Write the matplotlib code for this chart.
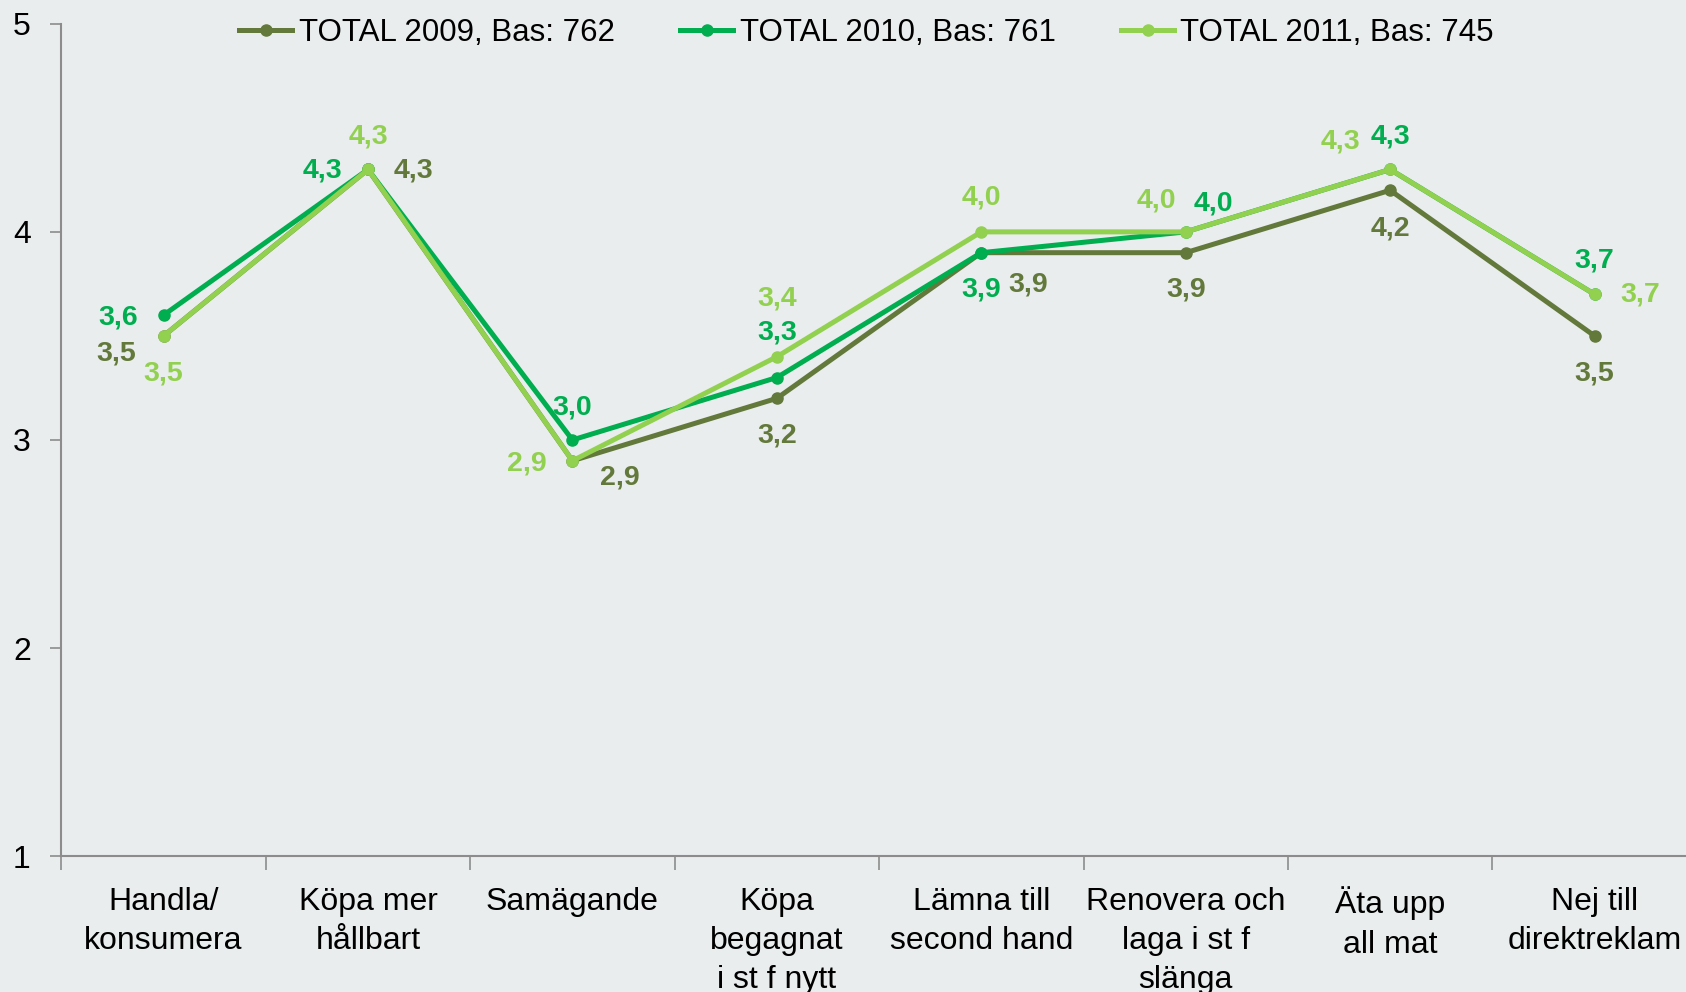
import matplotlib
matplotlib.use("Agg")
import matplotlib.pyplot as plt

categories = ["Handla/\nkonsumera", "Köpa mer\nhållbart", "Samägande", "Köpa\nbegagnat\ni st f nytt",
              "Lämna till\nsecond hand", "Renovera och\nlaga i st f\nslänga", "Äta upp\nall mat", "Nej till\ndirektreklam"]
series_names = ["TOTAL 2009, Bas: 762", "TOTAL 2010, Bas: 761", "TOTAL 2011, Bas: 745"]
values_2009 = [3.5, 4.3, 2.9, 3.2, 3.9, 3.9, 4.2, 3.5]
values_2010 = [3.6, 4.3, 3.0, 3.3, 3.9, 4.0, 4.3, 3.7]
values_2011 = [3.5, 4.3, 2.9, 3.4, 4.0, 4.0, 4.3, 3.7]
y_ticks = [1, 2, 3, 4, 5]

colors = ["#63793B", "#00AD4F", "#92D050"]
bg = "#E9EDED"

# label offsets (shrunk-pixel units, converted below)
offsets = [
    [(-44, -16), (42, -1), (44, -16), (0, -35), (44, -30), (0, -34), (0, -36), (0, -35)],
    [(-42, -2), (-42, -1), (0, 30), (0, 42), (0, -34), (26, 26), (0, 31), (0, 31)],
    [(0, -35), (0, 31), (-42, -3), (0, 54), (0, 32), (-27, 29), (-46, 26), (42, 0)],
]

plt.rcParams['font.family'] = ['Liberation Sans', 'DejaVu Sans']
fig = plt.figure(figsize=(16.86, 9.92), dpi=100, facecolor=bg)
ax = fig.add_axes([0.0364, 0.137, 0.970, 0.839])
ax.set_facecolor(bg)

x = list(range(len(categories)))
all_vals = [values_2009, values_2010, values_2011]
for vals, name, c in zip(all_vals, series_names, colors):
    ax.plot(x, vals, color=c, lw=3.6, marker='o', ms=8, label=name, solid_joinstyle='round')

k = 1.0753 * 0.72
for si, (vals, c) in enumerate(zip(all_vals, colors)):
    for i, v in enumerate(vals):
        dx, dy = offsets[si][i]
        ax.annotate(f"{v:.1f}".replace('.', ','), (i, v), xytext=(dx * k, dy * k),
                    textcoords='offset points', ha='center', va='center',
                    fontsize=20.5, fontweight='bold', color=c)

ax.set_xlim(-0.5, len(categories) - 0.5)
ax.set_ylim(1, 5)
ax.set_yticks(y_ticks)
ax.set_yticklabels([str(t) for t in y_ticks])
ax.set_xticks([i - 0.5 for i in range(len(categories))])
ax.set_xticklabels([])
ax.set_xticks(x, minor=True)
ax.set_xticklabels(categories, minor=True, fontsize=23, linespacing=1.4, va='top')
ax.tick_params(axis='x', which='minor', length=0, pad=22)
ax.tick_params(axis='x', which='major', length=10, width=1.2, color='#8C8C8C', direction='out')
ax.tick_params(axis='y', length=8, width=1.2, color='#8C8C8C', labelsize=23, pad=14)
for s in ['top', 'right']:
    ax.spines[s].set_visible(False)
for s in ['left', 'bottom']:
    ax.spines[s].set_color('#8C8C8C')
    ax.spines[s].set_linewidth(1.5)

leg = fig.legend(loc='center', bbox_to_anchor=(0.514, 0.967), ncol=3, frameon=False,
                 fontsize=22.5, handlelength=1.7, handletextpad=0.2, columnspacing=2.1)

fig.savefig("out.png", dpi=100, facecolor=bg)
